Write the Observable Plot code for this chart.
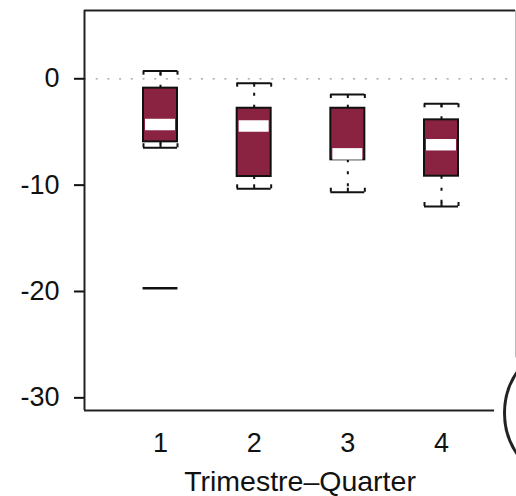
<!DOCTYPE html>
<html><head><meta charset="utf-8">
<script src="https://cdn.jsdelivr.net/npm/d3@7"></script>
<script src="https://cdn.jsdelivr.net/npm/@observablehq/plot@0.6"></script>
<style>
html,body{margin:0;padding:0;background:#fff;overflow:hidden;}
#wrap{position:relative;width:516px;height:496px;overflow:hidden;}
#wrap svg{display:block;}
#badge{position:absolute;left:503px;top:339px;width:148px;height:148px;border-radius:50%;border:3px solid #222;box-shadow:0 0 0 9px #fff;background:#fff;box-sizing:border-box;}
</style></head><body><div id="wrap"></div>
<script>
// Data
const quarters = [1, 2, 3, 4];
const upperCap = [0.72, -0.41, -1.48, -2.35];
const q3 = [-0.88, -2.77, -2.77, -3.86];
const median = [-4.30, -4.44, -7.06, -6.20];
const q1 = [-5.93, -9.19, -7.62, -9.16];
const lowerCap = [-6.49, -10.35, -10.67, -12.01];
const outlierQuarter = [1];
const outlierValue = [-19.70];
const yTicks = [0, -10, -20, -30];
const xLabel = "Trimestre–Quarter";
const xDomain = [0.1886, 4.79];
const yDomain = [-31.19, 6.42];

const half = 0.1815;      // half box width in x units
const capTick = 0.38;     // small cap end tick length in y units
const rows = quarters.map((q, i) => ({
  q, lo: q - half, hi: q + half,
  uc: upperCap[i], q3: q3[i], med: median[i], q1: q1[i], lc: lowerCap[i]
}));
const upperTicks = rows.flatMap(r => [r.lo, r.q, r.hi].map(x => ({x, y1: r.uc, y2: r.uc - capTick})));
const lowerTicks = rows.flatMap(r => [r.lo, r.q, r.hi].map(x => ({x, y1: r.lc, y2: r.lc + capTick})));
const outliers = outlierQuarter.map((q, i) => ({lo: q - half - 0.005, hi: q + half + 0.005, v: outlierValue[i]}));

const ink = "#111";
const chart = Plot.plot({
  width: 516, height: 496,
  marginLeft: 84, marginRight: 1, marginTop: 10, marginBottom: 86,
  style: {fontFamily: "'Liberation Sans', Arial, Helvetica, sans-serif", fontSize: "27px", color: ink, background: "#fff"},
  x: {domain: xDomain, label: null},
  y: {domain: yDomain, label: null},
  marks: [
    Plot.ruleY([0], {stroke: "#999", strokeDasharray: "2,9.7", strokeWidth: 1.3}),
    Plot.ruleX(rows, {x: "q", y1: "q3", y2: "uc", stroke: ink, strokeWidth: 2, strokeDasharray: "3,9"}),
    Plot.ruleX(rows, {x: "q", y1: "q1", y2: "lc", stroke: ink, strokeWidth: 2, strokeDasharray: "3,9"}),
    Plot.ruleY(rows, {y: "uc", x1: "lo", x2: "hi", stroke: ink, strokeWidth: 2}),
    Plot.ruleY(rows, {y: "lc", x1: "lo", x2: "hi", stroke: ink, strokeWidth: 2}),
    Plot.ruleX(upperTicks, {x: "x", y1: "y1", y2: "y2", stroke: ink, strokeWidth: 2}),
    Plot.ruleX(lowerTicks, {x: "x", y1: "y1", y2: "y2", stroke: ink, strokeWidth: 2}),
    Plot.rect(rows, {x1: "lo", x2: "hi", y1: "q1", y2: "q3", fill: "#8a2341", stroke: ink, strokeWidth: 2}),
    Plot.ruleY(rows, {y: "med", x1: "lo", x2: "hi", stroke: "#fff", strokeWidth: 11.5, insetLeft: 2, insetRight: 2}),
    Plot.ruleY(outliers, {y: "v", x1: "lo", x2: "hi", stroke: ink, strokeWidth: 2.5}),
    // frame
    Plot.ruleX([xDomain[1]], {stroke: "#bbb", strokeWidth: 1}),
    Plot.ruleX([xDomain[0]], {stroke: "#222", strokeWidth: 2}),
    Plot.ruleY(yDomain, {stroke: "#222", strokeWidth: 2}),
    Plot.axisY(yTicks, {tickSize: 10, tickPadding: 15, strokeWidth: 2, tickFormat: d => String(d), fontSize: 27, label: null}),
    Plot.axisX(quarters, {tickSize: 0, tickPadding: 22, tickFormat: d => String(d), fontSize: 27, label: null}),
    Plot.text([xLabel], {text: d => d, frameAnchor: "bottom", lineAnchor: "top", dy: 60, fontSize: 28.5, fill: ink})
  ]
});
const wrap = document.getElementById("wrap");
wrap.appendChild(chart);
const badge = document.createElement("div");
badge.id = "badge";
wrap.appendChild(badge);
</script>
</body></html>
